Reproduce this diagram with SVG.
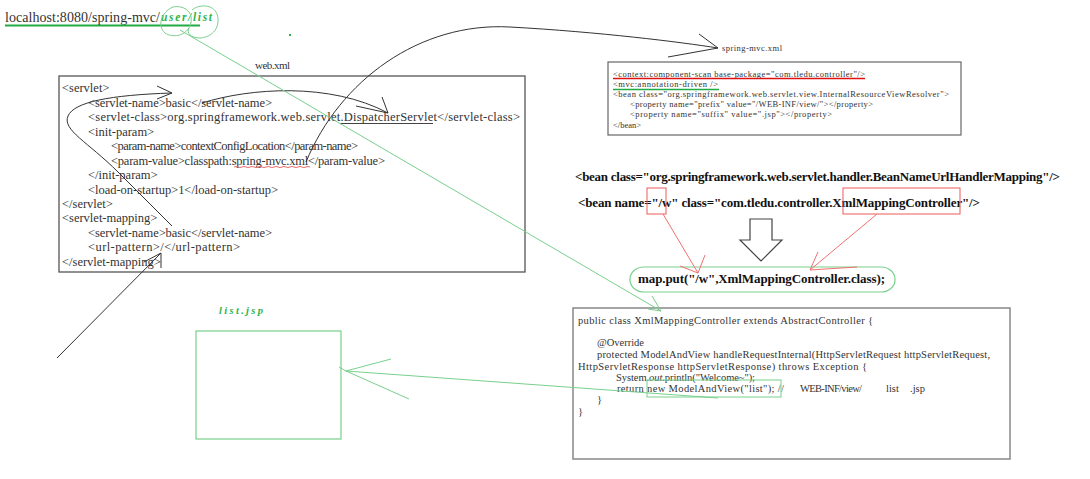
<svg xmlns="http://www.w3.org/2000/svg" width="1090" height="479" viewBox="0 0 1090 479">
<style>
.t{font-family:"Liberation Serif","DejaVu Serif",serif;fill:#333}
.w{font-size:12.5px}
.s{font-size:8.5px}
.c{font-size:10.5px}
.b{font-size:13px;font-weight:bold;fill:#111}
.box{fill:none;stroke:#555;stroke-width:1.3}
.blk{fill:none;stroke:#333;stroke-width:1}
.grn{fill:none;stroke:#78d08c;stroke-width:1}
.red{fill:none;stroke:#f07070;stroke-width:1}
.gt{font-family:"Liberation Serif","DejaVu Serif",serif;font-style:italic;font-weight:bold;fill:#2fb44a}
</style>
<rect width="1090" height="479" fill="#fff"/>

<g id="url">
<text class="t" x="5" y="22" font-size="14" textLength="155">localhost:8080/spring-mvc/</text>
<text class="gt" x="161" y="21" font-size="11.5" textLength="51">user/list</text>
<line x1="5" y1="25.5" x2="200" y2="25.5" stroke="#22aa44" stroke-width="2"/>
<path class="grn" d="M173,7 C161,12 157,26 165,33 C174,39 189,35 191,22 C193,11 183,5 173,7 M192,10 C199,4 213,4 217,14 C221,27 213,37 200,38 C191,38 186,33 189,28"/>
<rect x="289" y="34" width="2" height="2" fill="#2fb44a"/>
</g>

<g id="web-xml">
<text class="t" x="255" y="69" font-size="11" textLength="35">web.xml</text>
<rect class="box" x="59" y="76" width="466" height="196"/>
<text class="t w" x="62" y="92">&lt;servlet&gt;</text>
<text class="t w" x="88" y="107" textLength="184">&lt;servlet-name&gt;basic&lt;/servlet-name&gt;</text>
<text class="t w" x="88" y="121" textLength="432">&lt;servlet-class&gt;org.springframework.web.servlet.DispatcherServlet&lt;/servlet-class&gt;</text>
<text class="t w" x="88" y="136">&lt;init-param&gt;</text>
<text class="t w" x="111" y="150" textLength="247">&lt;param-name&gt;contextConfigLocation&lt;/param-name&gt;</text>
<text class="t w" x="111" y="165" textLength="274">&lt;param-value&gt;classpath:spring-mvc.xml&lt;/param-value&gt;</text>
<text class="t w" x="88" y="179">&lt;/init-param&gt;</text>
<text class="t w" x="88" y="194" textLength="190">&lt;load-on-startup&gt;1&lt;/load-on-startup&gt;</text>
<text class="t w" x="62" y="208">&lt;/servlet&gt;</text>
<text class="t w" x="62" y="222">&lt;servlet-mapping&gt;</text>
<text class="t w" x="88" y="237" textLength="184">&lt;servlet-name&gt;basic&lt;/servlet-name&gt;</text>
<text class="t w" x="88" y="251" textLength="152">&lt;url-pattern&gt;/&lt;/url-pattern&gt;</text>
<text class="t w" x="62" y="266">&lt;/servlet-mapping&gt;</text>
<line x1="340" y1="123.5" x2="433" y2="123.5" stroke="#444" stroke-width="1"/>
<path d="M234,167 q2,-1 4,0 t4,0 t4,0 t4,0 t4,0 t4,0 t4,0 t4,0 t4,0 t4,0 t4,0 t4,0 t4,0 t4,0 t4,0 t4,0 t4,0 t4,0 t4,0" fill="none" stroke="#e86a6a" stroke-width="1"/>
</g>

<g id="spring-mvc-xml">
<text class="t" x="722" y="51" font-size="8.5" textLength="60">spring-mvc.xml</text>
<rect x="608" y="62" width="353" height="73" fill="none" stroke="#666" stroke-width="1.2"/>
<text class="t s" x="613" y="77" textLength="252">&lt;context:component-scan base-package="com.tledu.controller"/&gt;</text>
<line x1="613" y1="78.5" x2="865" y2="78.5" stroke="#e01010" stroke-width="1.5"/>
<text class="t s" x="613" y="87" textLength="105">&lt;mvc:annotation-driven /&gt;</text>
<line x1="613" y1="89.5" x2="719" y2="89.5" stroke="#22aa44" stroke-width="1.5"/>
<text class="t s" x="613" y="97" textLength="336">&lt;bean class="org.springframework.web.servlet.view.InternalResourceViewResolver"&gt;</text>
<text class="t s" x="630" y="107" textLength="243">&lt;property name="prefix" value="/WEB-INF/view/"&gt;&lt;/property&gt;</text>
<text class="t s" x="630" y="117" textLength="202">&lt;property name="suffix" value=".jsp"&gt;&lt;/property&gt;</text>
<text class="t s" x="613" y="128">&lt;/bean&gt;</text>
</g>

<g id="bean-defs">
<text class="t b" x="575" y="181" textLength="485">&lt;bean class="org.springframework.web.servlet.handler.BeanNameUrlHandlerMapping"/&gt;</text>
<text class="t b" x="578" y="207" textLength="402">&lt;bean name="/w" class="com.tledu.controller.XmlMappingController"/&gt;</text>
<rect x="647" y="188" width="19" height="26" fill="none" stroke="#f05a5a" stroke-width="1"/>
<rect x="843" y="188" width="117" height="26" fill="none" stroke="#f05a5a" stroke-width="1"/>
<path d="M750,219 H772 V240 H782 L761,261 L740,240 H750 Z" fill="#fff" stroke="#444" stroke-width="1.2"/>
</g>

<g id="map-put">
<rect x="630" y="267" width="265" height="25" rx="14" ry="12" fill="none" stroke="#78d08c" stroke-width="1.2"/>
<text class="t b" x="638" y="283" font-size="12" textLength="247">map.put("/w",XmlMappingController.class);</text>
</g>

<g id="controller-code">
<rect x="573" y="308" width="437" height="151" fill="none" stroke="#888" stroke-width="1.5"/>
<text class="t c" x="578" y="324" textLength="295">public class XmlMappingController extends AbstractController {</text>
<text class="t c" x="597" y="346">@Override</text>
<text class="t c" x="597" y="358" textLength="393">protected ModelAndView handleRequestInternal(HttpServletRequest httpServletRequest,</text>
<text class="t c" x="578" y="370" textLength="289">HttpServletResponse httpServletResponse) throws Exception {</text>
<text class="t c" x="616" y="381" textLength="139">System.<tspan font-style="italic">out</tspan>.println("Welcome~");</text>
<text class="t c" x="617" y="392" textLength="167">return new ModelAndView("list"); //</text>
<text class="t c" x="800" y="392" textLength="62">WEB-INF/view/</text>
<text class="t c" x="886" y="392">list</text>
<text class="t c" x="910" y="392">.jsp</text>
<text class="t c" x="597" y="403">}</text>
<text class="t c" x="578" y="415">}</text>
<rect x="647" y="380" width="134" height="17" fill="none" stroke="#78d08c" stroke-width="1"/>
</g>

<g id="list-jsp">
<text class="gt" x="219" y="314" font-size="10.5" textLength="44">list.jsp</text>
<rect x="196" y="331" width="145" height="108" fill="none" stroke="#78d08c" stroke-width="1.2"/>
</g>

<g id="connectors">
<path class="blk" d="M172,226 L118,172 C88,142 62,130 68,116 C74,102 110,95 172,93"/>
<path class="blk" d="M157,86 L172,93 L157,99"/>
<path class="blk" d="M202,103 C250,88 330,82 388,113"/>
<path class="blk" d="M382,97 L388,113 L356,106"/>
<path class="blk" d="M306,162 C340,80 420,22 510,27 C600,32 680,42 718,48"/>
<path class="blk" d="M699,34 L718,48 L668,57"/>
<path class="blk" d="M57,358 L161,253 M161,253 L161,268 M161,253 L144,262"/>
<path class="red" d="M663,214 L698,273 M705,255 L698,273 L680,266"/>
<path class="red" d="M877,214 L810,270 M818,252 L810,270 L857,267"/>
<path class="grn" d="M180,30 L661,311 M652,296 L661,311 L648,309"/>
<path class="grn" d="M718,398 L346,371 M391,359 L346,371 L409,399 M339,367 L346,371"/>
</g>
</svg>
